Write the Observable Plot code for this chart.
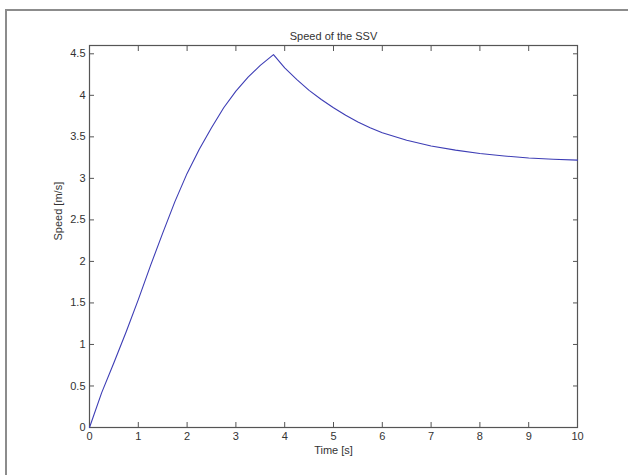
<!DOCTYPE html>
<html>
<head>
<meta charset="utf-8">
<script src="https://cdn.jsdelivr.net/npm/d3@7"></script>
<script src="https://cdn.jsdelivr.net/npm/@observablehq/plot@0.6"></script>
<style>
  html, body { margin: 0; padding: 0; background: #fff; }
  #wrap { position: relative; width: 628px; height: 475px; overflow: hidden; }
  #edge { position: absolute; left: 5px; top: 9px; width: 700px; height: 600px;
          border-top: 2px solid #8c8c8c; border-left: 2px solid #8c8c8c; pointer-events: none; }
  svg { position: absolute; left: 0; top: 0; }
</style>
</head>
<body>
<div id="wrap"><div id="edge"></div></div>
<script>
const titleText = "Speed of the SSV";
const xLabel = "Time [s]";
const yLabel = "Speed [m/s]";
const xTicks = [0, 1, 2, 3, 4, 5, 6, 7, 8, 9, 10];
const yTicks = [0, 0.5, 1, 1.5, 2, 2.5, 3, 3.5, 4, 4.5];
const time =  [0, 0.25, 0.5, 0.75, 1.0, 1.25, 1.5, 1.75, 2.0, 2.25, 2.5, 2.75, 3.0, 3.25, 3.5, 3.77, 4.0, 4.25, 4.5, 4.75, 5.0, 5.25, 5.5, 5.75, 6.0, 6.5, 7.0, 7.5, 8.0, 8.5, 9.0, 9.5, 10];
const speed = [0, 0.42, 0.78, 1.15, 1.54, 1.95, 2.34, 2.72, 3.06, 3.35, 3.61, 3.85, 4.05, 4.22, 4.36, 4.49, 4.33, 4.19, 4.06, 3.95, 3.85, 3.76, 3.68, 3.61, 3.55, 3.46, 3.39, 3.34, 3.30, 3.27, 3.245, 3.23, 3.22];

const data = time.map((t, i) => ({t, v: speed[i]}));
const axisColor = "#555";
const textColor = "#333";
const blank = () => "";
const plain = d => String(d);

const chart = Plot.plot({
  width: 628,
  height: 475,
  marginLeft: 89,
  marginRight: 51,
  marginTop: 45,
  marginBottom: 48,
  style: {fontFamily: "Liberation Sans, Arial, sans-serif", fontSize: "11px", color: textColor, background: "transparent"},
  x: {domain: [0, 10]},
  y: {domain: [0, 4.6]},
  marks: [
    Plot.frame({stroke: axisColor, strokeWidth: 1.2}),
    Plot.axisX(xTicks, {anchor: "bottom", tickSize: -5, tickPadding: 10, tickFormat: plain, stroke: axisColor, fill: textColor, label: null}),
    Plot.axisX(xTicks, {anchor: "top", tickSize: -5, tickFormat: blank, stroke: axisColor, label: null}),
    Plot.axisY(yTicks, {anchor: "left", tickSize: -5, tickPadding: 9, tickFormat: plain, stroke: axisColor, fill: textColor, label: null}),
    Plot.axisY(yTicks, {anchor: "right", tickSize: -5, tickFormat: blank, stroke: axisColor, label: null}),
    Plot.line(data, {x: "t", y: "v", stroke: "#3d3db5", strokeWidth: 1.1}),
    Plot.text([titleText], {frameAnchor: "top", dy: -13, fill: textColor, fontSize: 11}),
    Plot.text([xLabel], {frameAnchor: "bottom", dy: 26, fill: textColor, fontSize: 11}),
    Plot.text([yLabel], {frameAnchor: "left", dx: -31, dy: 4, rotate: -90, fill: textColor, fontSize: 11})
  ]
});
document.getElementById("wrap").appendChild(chart);
</script>
</body>
</html>
